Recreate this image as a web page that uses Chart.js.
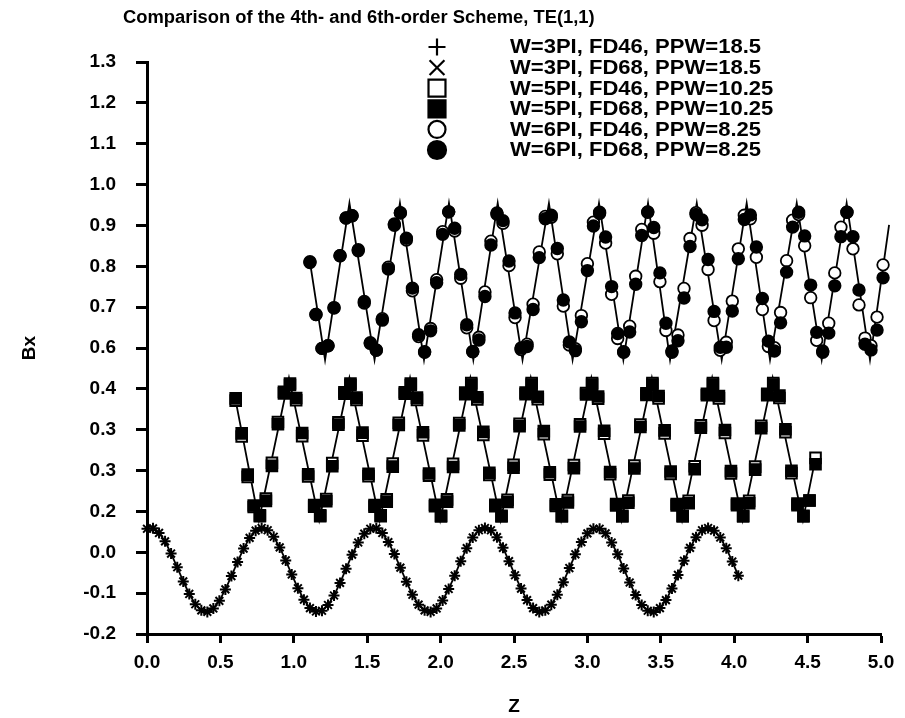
<!DOCTYPE html>
<html>
<head>
<meta charset="utf-8">
<script src="https://cdn.jsdelivr.net/npm/chart.js@4.4.1/dist/chart.umd.min.js"></script>
<style>
body { margin: 0; background: #fff; }
#BxChart { display: block; }
</style>
</head>
<body>
<canvas id="BxChart" width="905" height="718"></canvas>
<script>
// values (Bx against Z)
const z3 = [0.000,0.041,0.082,0.123,0.164,0.206,0.247,0.288,0.329,0.370,
    0.411,0.452,0.493,0.534,0.575,0.617,0.658,0.699,0.740,0.781,
    0.822,0.863,0.904,0.945,0.986,1.028,1.069,1.110,1.151,1.192,
    1.233,1.274,1.315,1.356,1.397,1.439,1.480,1.521,1.562,1.603,
    1.644,1.685,1.726,1.767,1.808,1.850,1.891,1.932,1.973,2.014,
    2.055,2.096,2.137,2.178,2.219,2.261,2.302,2.343,2.384,2.425,
    2.466,2.507,2.548,2.589,2.630,2.672,2.713,2.754,2.795,2.836,
    2.877,2.918,2.959,3.000,3.041,3.083,3.124,3.165,3.206,3.247,
    3.288,3.329,3.370,3.411,3.452,3.494,3.535,3.576,3.617,3.658,
    3.699,3.740,3.781,3.822,3.863,3.905,3.946,3.987,4.028];
const bx3 = [0.076,0.077,0.065,0.043,0.011,-0.025,-0.062,-0.095,-0.122,-0.138,
    -0.142,-0.133,-0.113,-0.083,-0.048,-0.011,0.024,0.052,0.071,0.078,
    0.072,0.055,0.027,-0.007,-0.044,-0.080,-0.110,-0.132,-0.141,-0.139,
    -0.124,-0.099,-0.066,-0.029,0.008,0.040,0.063,0.076,0.077,0.065,
    0.041,0.010,-0.026,-0.063,-0.097,-0.123,-0.138,-0.142,-0.133,-0.112,
    -0.082,-0.047,-0.009,0.025,0.053,0.072,0.078,0.072,0.054,0.026,
    -0.009,-0.046,-0.081,-0.111,-0.132,-0.142,-0.138,-0.123,-0.097,-0.064,
    -0.027,0.009,0.041,0.064,0.076,0.076,0.064,0.040,0.009,-0.028,
    -0.065,-0.098,-0.124,-0.139,-0.142,-0.132,-0.111,-0.081,-0.045,-0.008,
    0.026,0.054,0.072,0.078,0.071,0.053,0.025,-0.010,-0.047];

const z5 = [0.604,0.645,0.686,0.727,0.769,0.810,0.851,0.892,0.933,0.974,
    1.016,1.057,1.098,1.139,1.180,1.221,1.262,1.304,1.345,1.386,
    1.427,1.468,1.509,1.550,1.592,1.633,1.674,1.715,1.756,1.797,
    1.839,1.880,1.921,1.962,2.003,2.044,2.085,2.127,2.168,2.209,
    2.250,2.291,2.332,2.373,2.415,2.456,2.497,2.538,2.579,2.620,
    2.662,2.703,2.744,2.785,2.826,2.867,2.908,2.950,2.991,3.032,
    3.073,3.114,3.155,3.196,3.238,3.279,3.320,3.361,3.402,3.443,
    3.485,3.526,3.567,3.608,3.649,3.690,3.731,3.773,3.814,3.855,
    3.896,3.937,3.978,4.019,4.061,4.102,4.143,4.184,4.225,4.266,
    4.308,4.349,4.390,4.431,4.472,4.513,4.554];
const bx5fd46 = [0.412,0.318,0.212,0.133,0.111,0.155,0.249,0.356,0.435,0.457,
    0.413,0.319,0.213,0.134,0.111,0.154,0.248,0.355,0.434,0.457,
    0.414,0.320,0.214,0.134,0.111,0.153,0.247,0.354,0.434,0.457,
    0.414,0.321,0.215,0.135,0.110,0.153,0.246,0.353,0.433,0.458,
    0.415,0.322,0.217,0.135,0.110,0.152,0.244,0.351,0.433,0.458,
    0.416,0.324,0.218,0.136,0.110,0.151,0.243,0.350,0.432,0.458,
    0.417,0.325,0.219,0.137,0.110,0.150,0.242,0.349,0.431,0.458,
    0.418,0.326,0.220,0.137,0.110,0.149,0.240,0.347,0.430,0.458,
    0.418,0.327,0.221,0.138,0.110,0.149,0.239,0.346,0.430,0.458,
    0.419,0.329,0.222,0.138,0.110,0.150,0.262];
const bx5fd68 = [0.418,0.326,0.218,0.137,0.109,0.149,0.241,0.350,0.431,0.453,
    0.419,0.327,0.219,0.138,0.109,0.148,0.240,0.349,0.430,0.453,
    0.420,0.328,0.220,0.138,0.109,0.147,0.239,0.348,0.430,0.453,
    0.420,0.329,0.221,0.139,0.108,0.147,0.238,0.347,0.429,0.454,
    0.421,0.330,0.223,0.139,0.108,0.146,0.236,0.345,0.429,0.454,
    0.422,0.332,0.224,0.140,0.108,0.145,0.235,0.344,0.428,0.454,
    0.423,0.333,0.225,0.141,0.108,0.144,0.234,0.343,0.427,0.454,
    0.424,0.334,0.226,0.141,0.108,0.143,0.232,0.341,0.426,0.454,
    0.424,0.335,0.227,0.142,0.108,0.143,0.231,0.340,0.426,0.454,
    0.425,0.337,0.228,0.142,0.108,0.150,0.245];
// the solid guide line through the W=5PI markers (turning points)
const zLine5 = [0.604,0.762,0.967,1.173,1.379,1.585,1.792,1.997,2.203,2.409,2.614,
    2.821,3.027,3.233,3.439,3.645,3.850,4.057,4.262,4.468,4.554];
const bxLine5 = [0.412,0.098,0.472,0.098,0.472,0.098,0.472,0.098,0.472,0.098,0.472,
    0.098,0.472,0.098,0.472,0.098,0.472,0.098,0.472,0.098,0.262];

const z6 = [1.110,1.151,1.192,1.233,1.274,1.315,1.356,1.397,1.439,1.480,
    1.521,1.562,1.603,1.644,1.685,1.726,1.767,1.808,1.850,1.891,
    1.932,1.973,2.014,2.055,2.096,2.137,2.178,2.219,2.261,2.302,
    2.343,2.384,2.425,2.466,2.507,2.548,2.589,2.630,2.672,2.713,
    2.754,2.795,2.836,2.877,2.918,2.959,3.000,3.041,3.083,3.124,
    3.165,3.206,3.247,3.288,3.329,3.370,3.411,3.452,3.494,3.535,
    3.576,3.617,3.658,3.699,3.740,3.781,3.822,3.863,3.905,3.946,
    3.987,4.028,4.069,4.110,4.151,4.192,4.233,4.274,4.316,4.357,
    4.398,4.439,4.480,4.521,4.562,4.603,4.644,4.685,4.727,4.768,
    4.809,4.850,4.891,4.932,4.973,5.014,5.055];
const bx6fd46 = [0.774,0.638,0.549,0.556,0.656,0.792,0.891,0.897,0.805,0.668,
    0.562,0.545,0.627,0.762,0.875,0.904,0.833,0.700,0.580,0.540,
    0.601,0.729,0.855,0.907,0.857,0.733,0.603,0.540,0.578,0.697,
    0.830,0.904,0.877,0.766,0.630,0.546,0.560,0.665,0.802,0.895,
    0.893,0.797,0.660,0.558,0.548,0.635,0.771,0.880,0.903,0.825,
    0.691,0.575,0.540,0.607,0.738,0.861,0.907,0.851,0.724,0.596,
    0.539,0.584,0.706,0.837,0.905,0.872,0.756,0.622,0.544,0.565,
    0.673,0.810,0.898,0.889,0.788,0.651,0.554,0.551,0.643,0.779,
    0.885,0.900,0.818,0.682,0.570,0.542,0.615,0.747,0.867,0.906,
    0.810,0.663,0.576,0.556,0.631,0.768,0.880];
const bx6fd68 = [0.776,0.638,0.549,0.556,0.655,0.792,0.891,0.897,0.808,0.672,
    0.564,0.544,0.623,0.757,0.872,0.905,0.838,0.707,0.585,0.539,
    0.595,0.721,0.848,0.907,0.864,0.743,0.611,0.541,0.571,0.685,
    0.820,0.901,0.884,0.778,0.642,0.550,0.554,0.651,0.787,0.889,
    0.898,0.811,0.676,0.566,0.543,0.619,0.753,0.870,0.906,0.841,
    0.711,0.588,0.539,0.592,0.717,0.845,0.906,0.866,0.747,0.615,
    0.542,0.569,0.681,0.816,0.900,0.886,0.782,0.646,0.552,0.552,
    0.647,0.784,0.887,0.899,0.815,0.680,0.568,0.542,0.616,0.749,
    0.867,0.906,0.844,0.715,0.591,0.539,0.589,0.713,0.842,0.906,
    0.842,0.702,0.560,0.545,0.597,0.734,0.873];
// the solid guide line through the W=6PI markers (turning points)
const zLine6 = [1.110,1.213,1.379,1.550,1.723,1.887,2.057,2.223,2.389,2.558,2.738,
    2.899,3.079,3.245,3.413,3.563,3.745,3.915,4.085,4.244,4.426,4.596,4.766,4.925,5.055];
const bxLine6 = [0.776,0.519,0.930,0.519,0.930,0.519,0.930,0.519,0.930,0.519,0.930,
    0.519,0.930,0.519,0.930,0.519,0.930,0.519,0.930,0.519,0.930,0.519,0.930,0.519,0.873];

// the y tick labels exactly as printed on the original axis (bottom to top)
const yTickLabels = ['-0.2','-0.1','0.0','0.2','0.3','0.3','0.4','0.6','0.7','0.8','0.9','1.0','1.1','1.2','1.3'];
const seriesLabels = ['W=3PI, FD46, PPW=18.5', 'W=3PI, FD68, PPW=18.5',
    'W=5PI, FD46, PPW=10.25', 'W=5PI, FD68, PPW=10.25',
    'W=6PI, FD46, PPW=8.25', 'W=6PI, FD68, PPW=8.25'];
const chartTitle = 'Comparison of the 4th- and 6th-order Scheme, TE(1,1)';

const FONT = '"Liberation Sans", Arial, Helvetica, sans-serif';

function to_points(zs, bx){
    return zs.map((z, i) => ({x: z, y: bx[i]}));
}

function wide_text(ctx, text, x, y, stretch){
    ctx.save();
    ctx.translate(x, y);
    ctx.scale(stretch, 1);
    ctx.fillText(text, 0, 0);
    ctx.restore();
}

// title and the stacked legend inside the plot
const overlayPlugin = {
    id: 'overlay',
    afterDraw(chart) {
        const ctx = chart.ctx;
        ctx.save();
        ctx.fillStyle = '#000';
        ctx.textBaseline = 'middle';
        ctx.textAlign = 'left';
        ctx.font = 'bold 17.5px ' + FONT;
        wide_text(ctx, chartTitle, 123, 18, 1.05);

        let row = 0;
        chart.data.datasets.forEach(ds => {
            if (!ds.legendRadius) return;
            const y = 47 + row * 20.6;
            row++;
            ctx.strokeStyle = '#000';
            ctx.fillStyle = ds.pointBackgroundColor;
            ctx.lineWidth = 2.2;
            Chart.helpers.drawPoint(ctx, {
                pointStyle: ds.pointStyle,
                radius: ds.legendRadius,
                borderWidth: 2.2,
                rotation: 0
            }, 437, y);
            ctx.fillStyle = '#000';
            ctx.font = 'bold 19.5px ' + FONT;
            wide_text(ctx, ds.label, 510, y + 1, 1.13);
        });
        ctx.restore();
    }
};

const base = {
    borderColor: '#000',
    pointBorderColor: '#000',
    pointBorderWidth: 1.8,
    borderWidth: 1.8,
    tension: 0,
    clip: false,
    showLine: false
};

const data = {
    datasets: [
        Object.assign({}, base, {
            label: seriesLabels[0],
            data: to_points(z3, bx3),
            pointStyle: 'cross',
            pointRadius: 5.5,
            pointBorderWidth: 2,
            pointBackgroundColor: '#000',
            showLine: true,
            legendRadius: 8.5,
            order: 2
        }),
        Object.assign({}, base, {
            label: seriesLabels[1],
            data: to_points(z3, bx3),
            pointStyle: 'crossRot',
            pointRadius: 5.5,
            pointBorderWidth: 2,
            pointBackgroundColor: '#000',
            legendRadius: 10.5,
            order: 1
        }),
        Object.assign({}, base, {
            label: seriesLabels[2],
            data: to_points(z5, bx5fd46),
            pointStyle: 'rect',
            pointRadius: 7.5,
            pointBorderWidth: 2,
            pointBackgroundColor: '#fff',
            legendRadius: 12,
            order: 6
        }),
        Object.assign({}, base, {
            label: seriesLabels[3],
            data: to_points(z5, bx5fd68),
            pointStyle: 'rect',
            pointRadius: 7.5,
            pointBorderWidth: 2,
            pointBackgroundColor: '#000',
            legendRadius: 12,
            order: 5
        }),
        Object.assign({}, base, {
            label: seriesLabels[4],
            data: to_points(z6, bx6fd46),
            pointStyle: 'circle',
            pointRadius: 5.8,
            pointBackgroundColor: '#fff',
            legendRadius: 8.5,
            order: 4
        }),
        Object.assign({}, base, {
            label: seriesLabels[5],
            data: to_points(z6, bx6fd68),
            pointStyle: 'circle',
            pointRadius: 5.8,
            pointBackgroundColor: '#000',
            legendRadius: 9,
            order: 3
        }),
        Object.assign({}, base, {
            label: '',
            data: to_points(zLine5, bxLine5),
            pointRadius: 0,
            showLine: true,
            order: 8
        }),
        Object.assign({}, base, {
            label: '',
            data: to_points(zLine6, bxLine6),
            pointRadius: 0,
            showLine: true,
            order: 7
        })
    ]
};

const tickFont = { family: FONT, size: 19, weight: 'bold' };

const chart = new Chart(document.getElementById('BxChart').getContext('2d'), {
    type: 'scatter',
    data: data,
    plugins: [overlayPlugin],
    options: {
        responsive: false,
        animation: false,
        devicePixelRatio: 1,
        events: [],
        layout: { padding: { top: 62, right: 24, bottom: 0, left: 0 } },
        plugins: {
            legend: { display: false },
            title: { display: false },
            tooltip: { enabled: false }
        },
        scales: {
            x: {
                type: 'linear',
                min: 0,
                max: 5,
                ticks: {
                    stepSize: 0.5,
                    color: '#000',
                    font: tickFont,
                    padding: 8,
                    maxRotation: 0,
                    autoSkip: false,
                    callback: v => v.toFixed(1)
                },
                grid: { drawOnChartArea: false, tickLength: 9, tickWidth: 3, tickColor: '#000' },
                border: { display: true, width: 3, color: '#000' },
                title: { display: true, text: 'Z', color: '#000', font: tickFont, padding: { top: 0, bottom: 0 } },
                afterFit: scale => { scale.height = 84; }
            },
            y: {
                type: 'linear',
                min: -0.2,
                max: 1.3,
                afterBuildTicks: scale => {
                    scale.ticks = yTickLabels.map((_, i) => ({ value: -0.2 + i * 1.5 / (yTickLabels.length - 1) }));
                },
                ticks: {
                    color: '#000',
                    font: tickFont,
                    padding: 20,
                    callback: (v, i) => yTickLabels[i]
                },
                grid: { drawOnChartArea: false, tickLength: 11, tickWidth: 3, tickColor: '#000' },
                border: { display: true, width: 3, color: '#000' },
                title: { display: true, text: 'Bx', color: '#000', font: tickFont, padding: { top: 18, bottom: 0 } },
                afterFit: scale => { scale.width = 147; }
            }
        }
    }
});
</script>
</body>
</html>
